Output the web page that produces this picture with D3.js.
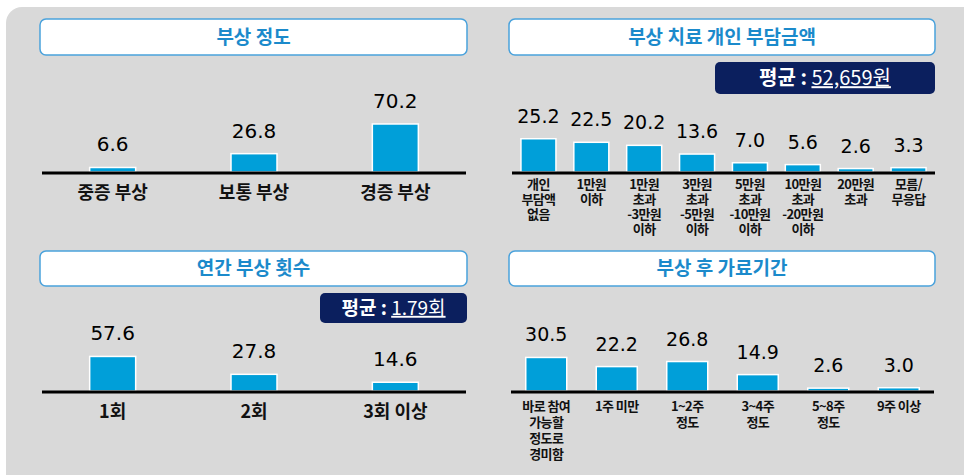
<!DOCTYPE html>
<html>
<head>
<meta charset="utf-8">
<script src="https://cdn.jsdelivr.net/npm/d3@7"></script>
<style>
  body { margin: 0; background: #fff; }
  svg { display: block; }
  .kr { font-family: "Noto Sans CJK KR", "Noto Sans", sans-serif; }
  .num { font-family: "DejaVu Sans", sans-serif; fill: #000; }
</style>
</head>
<body>
<div id="chart"></div>
<script>
// data
var severityCats = [["중증 부상"], ["보통 부상"], ["경증 부상"]];
var severityVals = [6.6, 26.8, 70.2];

var costCats = [
    ["개인", "부담액", "없음"],
    ["1만원", "이하"],
    ["1만원", "초과", "-3만원", "이하"],
    ["3만원", "초과", "-5만원", "이하"],
    ["5만원", "초과", "-10만원", "이하"],
    ["10만원", "초과", "-20만원", "이하"],
    ["20만원", "초과"],
    ["모름/", "무응답"]
];
var costVals = [25.2, 22.5, 20.2, 13.6, 7.0, 5.6, 2.6, 3.3];

var countCats = [["1회"], ["2회"], ["3회 이상"]];
var countVals = [57.6, 27.8, 14.6];

var absenceCats = [
    ["바로 참여", "가능할", "정도로", "경미함"],
    ["1주 미만"],
    ["1~2주", "정도"],
    ["3~4주", "정도"],
    ["5~8주", "정도"],
    ["9주 이상"]
];
var absenceVals = [30.5, 22.2, 26.8, 14.9, 2.6, 3.0];

var width = 964, height = 475;
var barColor = "#009fd9";
var navy = "#0b1f5e";
var headBlue = "#1b8acb";

var svg = d3.select("#chart").append("svg")
    .attr("width", width)
    .attr("height", height);

// gray background panel
svg.append("rect")
    .attr("x", 6).attr("y", 7)
    .attr("width", 990).attr("height", 500)
    .attr("rx", 16)
    .attr("fill", "#d9d9d9");

var fmt = d3.format(".1f");

function drawPanel(p) {
    var g = svg.append("g");

    // header box
    g.append("rect")
        .attr("x", p.head[0]).attr("y", p.head[1])
        .attr("width", p.head[2]).attr("height", p.head[3])
        .attr("rx", 6)
        .attr("fill", "#fff")
        .attr("stroke", "#4aa2dc")
        .attr("stroke-width", 1.5);

    g.append("text")
        .attr("class", "kr")
        .attr("x", p.head[0] + p.head[2] / 2)
        .attr("y", p.head[1] + p.head[3] / 2)
        .attr("dy", "0.36em")
        .attr("text-anchor", "middle")
        .attr("font-size", 19)
        .attr("font-weight", "bold")
        .attr("fill", headBlue)
        .text(p.title);

    // average box
    if (p.avg) {
        g.append("rect")
            .attr("x", p.avg.box[0]).attr("y", p.avg.box[1])
            .attr("width", p.avg.box[2]).attr("height", p.avg.box[3])
            .attr("rx", 5)
            .attr("fill", navy);
        var t = g.append("text")
            .attr("class", "kr")
            .attr("x", p.avg.box[0] + p.avg.box[2] / 2)
            .attr("y", p.avg.box[1] + p.avg.box[3] / 2)
            .attr("dy", "0.36em")
            .attr("text-anchor", "middle")
            .attr("font-size", p.avg.size)
            .attr("font-weight", "bold")
            .attr("fill", "#fff");
        t.append("tspan").text("평균 : ");
        t.append("tspan")
            .style("text-decoration", "underline")
            .attr("font-weight", "normal")
            .text(p.avg.value);
    }

    var x = d3.scaleBand()
        .domain(d3.range(p.vals.length))
        .range([p.x0, p.x1])
        .paddingInner(0)
        .paddingOuter(0);

    var y = d3.scaleLinear()
        .domain([0, p.yMax])
        .range([p.base, p.base - p.yH]);

    var bw = p.barW;

    // bars
    g.selectAll(".bar")
        .data(p.vals)
        .enter()
        .append("rect")
        .attr("class", "bar")
        .attr("x", (d, i) => x(i) + x.bandwidth() / 2 - bw / 2)
        .attr("y", d => y(d))
        .attr("width", bw)
        .attr("height", d => p.base - y(d))
        .attr("fill", barColor)
        .attr("stroke", "#fff")
        .attr("stroke-width", 1.5);

    // value labels
    g.selectAll(".val")
        .data(p.vals)
        .enter()
        .append("text")
        .attr("class", "num")
        .attr("x", (d, i) => x(i) + x.bandwidth() / 2)
        .attr("y", d => y(d) - 16)
        .attr("text-anchor", "middle")
        .attr("font-size", p.valSize)
        .text(d => fmt(d));

    // baseline
    g.append("line")
        .attr("x1", p.x0).attr("x2", p.x1)
        .attr("y1", p.base + 1).attr("y2", p.base + 1)
        .attr("stroke", "#000")
        .attr("stroke-width", 3);

    // category labels, one text per line
    p.cats.forEach(function(lines, i) {
        lines.forEach(function(line, j) {
            g.append("text")
                .attr("class", "kr")
                .attr("x", x(i) + x.bandwidth() / 2)
                .attr("y", p.catY + j * p.catLine)
                .attr("dy", "0.36em")
                .attr("text-anchor", "middle")
                .attr("font-size", p.catSize)
                .attr("font-weight", "bold")
                .attr("letter-spacing", p.catSpacing)
                .attr("fill", "#111")
                .text(line);
        });
    });
}

drawPanel({
    title: "부상 정도",
    head: [40, 19, 427, 36],
    vals: severityVals, cats: severityCats,
    x0: 42, x1: 466, base: 172, barW: 46,
    yMax: 100, yH: 68.4,
    valSize: 20, catSize: 18, catSpacing: 0, catY: 193, catLine: 20
});

drawPanel({
    title: "부상 치료 개인 부담금액",
    head: [509, 19, 426, 36],
    avg: { box: [715, 62, 220, 32], value: "52,659원", size: 20 },
    vals: costVals, cats: costCats,
    x0: 512, x1: 935, base: 172, barW: 35,
    yMax: 30, yH: 39.6,
    valSize: 19, catSize: 13, catSpacing: -0.6, catY: 184, catLine: 15
});

drawPanel({
    title: "연간 부상 횟수",
    head: [40, 251, 427, 35],
    avg: { box: [320, 293, 147, 30], value: "1.79회", size: 19 },
    vals: countVals, cats: countCats,
    x0: 42, x1: 466, base: 391, barW: 46,
    yMax: 100, yH: 60,
    valSize: 20, catSize: 18, catSpacing: 0, catY: 412, catLine: 20
});

drawPanel({
    title: "부상 후 가료기간",
    head: [509, 251, 426, 35],
    vals: absenceVals, cats: absenceCats,
    x0: 511, x1: 934, base: 391, barW: 41,
    yMax: 40, yH: 44,
    valSize: 19, catSize: 13, catSpacing: -0.6, catY: 406, catLine: 16
});
</script>
</body>
</html>
